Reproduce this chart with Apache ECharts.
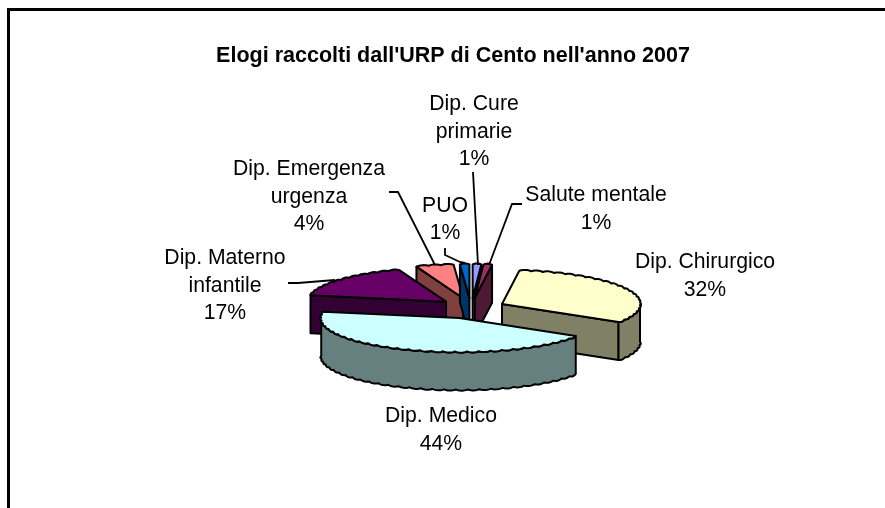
<!DOCTYPE html>
<html><head><meta charset="utf-8">
<style>html,body{margin:0;padding:0;background:#fff}#c{width:885px;height:508px}</style>
<script src="https://cdn.jsdelivr.net/npm/echarts@6/dist/echarts.min.js"></script>
</head><body><div id="c"></div>
<script>
const titleText = "Elogi raccolti dall'URP di Cento nell'anno 2007";
const categories = ['Dip. Cure\nprimarie','Salute mentale','Dip. Chirurgico','Dip. Medico','Dip. Materno\ninfantile','Dip. Emergenza\nurgenza','PUO'];
const values = [1,1,32,44,16.5,4.4,1.1];
const topColors = ['#9999FF','#993366','#FFFFCC','#CCFFFF','#660066','#FF8080','#0066CC'];
const wallColors = ['#4D4D80','#4D1A33','#808066','#668080','#330033','#804040','#003366'];
const paintRank = [3,4,5,7,6,1,2];

// layout (label anchors, leaders, small explode nudges), separate from the data
const labelPos = [[474,132],[596,209],[705,276],[441,430],[225,286],[309,197],[445,219.5]];
const explodeNudge = [0,0,0,0,0,-1.5,-1];
const leaders = [
  [[473,172],[478,265]],
  [[522,204],[512,204],[489,265]],
  null,
  null,
  [[288,283],[298,283],[335,280]],
  [[389,192],[398,192],[435,265]],
  [[445,248],[445,255],[460,262],[465,263]]
];
const geo = {cx:471.6, cy:308.4, a:138, b:33.5, depth:38, ex:33.6, ey:10.4, step:5, bump:2.2};

const total = values.reduce((s,v)=>s+v,0);
const rad = d => d*Math.PI/180;
function ell(ax,ay,t){return [ax+geo.a*Math.sin(rad(t)), ay-geo.b*Math.cos(rad(t))];}
function arcPts(ax,ay,t0,t1){
  // scalloped outline, like the reference's polygon-rendered rim
  const n = Math.max(1,Math.round(Math.abs(t1-t0)/geo.step));
  const out=[ell(ax,ay,t0)];
  for(let k=0;k<n;k++){
    const u0=t0+(t1-t0)*k/n,u1=t0+(t1-t0)*(k+1)/n,um=(u0+u1)/2;
    const p0=ell(ax,ay,u0),p1=ell(ax,ay,u1);
    let nx=Math.sin(rad(um))/geo.a,ny=-Math.cos(rad(um))/geo.b;
    const l=Math.hypot(nx,ny);nx/=l;ny/=l;
    const c=[(p0[0]+p1[0])/2+nx*geo.bump,(p0[1]+p1[1])/2+ny*geo.bump];
    for(let j=1;j<=6;j++){const s=j/6,r=1-s;
      out.push([r*r*p0[0]+2*r*s*c[0]+s*s*p1[0], r*r*p0[1]+2*r*s*c[1]+s*s*p1[1]]);}
  }
  return out;
}
function renderItem(params,api){
  const i=api.value(0), v=api.value(1);
  let before=0; for(let k=0;k<i;k++) before+=values[k];
  const t0=before/total*360, t1=(before+v)/total*360, tm=(t0+t1)/2;
  const ax=geo.cx+geo.ex*Math.sin(rad(tm))+explodeNudge[i], ay=geo.cy-geo.ey*Math.cos(rad(tm));
  const d=geo.depth, z=paintRank[i]*10;
  const st={stroke:'#000',lineWidth:2,lineJoin:'round'};
  const kids=[];
  const wallStyle=Object.assign({fill:wallColors[i]},st);
  const radial=(t,zz)=>{const p=ell(ax,ay,t);
    kids.push({type:'polygon',z2:zz,shape:{points:[[ax,ay],p,[p[0],p[1]+d],[ax,ay+d]]},style:wallStyle});};
  if(Math.sin(rad(t0))<0) radial(t0,z);
  if(Math.sin(rad(t1))>0) radial(t1,z);
  const w0=Math.max(t0,90), w1=Math.min(t1,270);
  if(w1>w0){
    kids.push({type:'polygon',z2:z+1,shape:{points:arcPts(ax,ay,w0,w1).concat(arcPts(ax,ay+d,w1,w0))},style:wallStyle});
  }
  kids.push({type:'polygon',z2:z+2,shape:{points:[[ax,ay]].concat(arcPts(ax,ay,t0,t1))},style:Object.assign({fill:topColors[i]},st)});
  if(leaders[i]) kids.push({type:'polyline',z2:100,shape:{points:leaders[i]},style:{fill:null,stroke:'#000',lineWidth:1.8}});
  kids.push({type:'text',z2:101,style:{text:categories[i]+'\n'+Math.round(v/total*100)+'%',x:labelPos[i][0],y:labelPos[i][1],align:'center',verticalAlign:'middle',fill:'#000',fontSize:21.2,fontFamily:'Liberation Sans',lineHeight:27.5}});
  return {type:'group',children:kids};
}
const chart=echarts.init(document.getElementById('c'),null,{renderer:'canvas'});
chart.setOption({
  animation:false,
  backgroundColor:'#fff',
  title:{text:titleText,left:448,top:41,textAlign:'center',textStyle:{fontFamily:'Liberation Sans',fontWeight:'bold',fontSize:21.5,color:'#000',lineHeight:20}},
  graphic:[
    {type:'rect',silent:true,shape:{x:7,y:8,width:878,height:3},style:{fill:'#000'}},
    {type:'rect',silent:true,shape:{x:7,y:8,width:3,height:500},style:{fill:'#000'}}
  ],
  series:[{type:'custom',coordinateSystem:'none',silent:true,renderItem,data:values.map((v,i)=>[i,v])}]
});
</script></body></html>
